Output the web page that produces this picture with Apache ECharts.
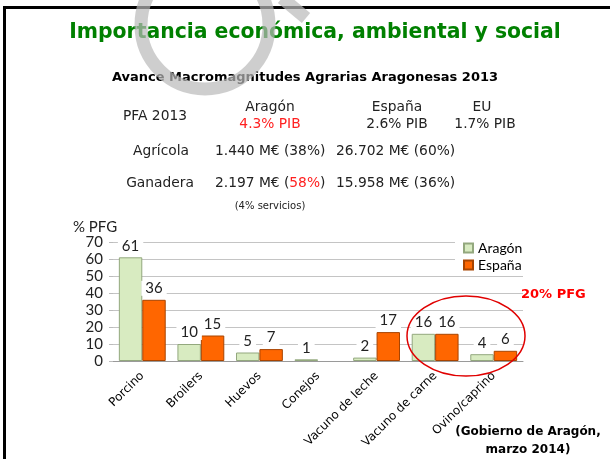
<!DOCTYPE html>
<html>
<head>
<meta charset="utf-8">
<script src="https://cdn.jsdelivr.net/npm/echarts@6/dist/echarts.min.js"></script>
<style>
  html, body { margin: 0; padding: 0; background: #fff; }
  #chart { width: 610px; height: 459px; }
</style>
</head>
<body>
<div id="chart"></div>
<script>
// datos
const categorias = ["Porcino", "Broilers", "Huevos", "Conejos", "Vacuno de leche", "Vacuno de carne", "Ovino/caprino"];
const aragon = [61, 10, 5, 1, 2, 16, 4];
const espana = [36, 15, 7, null, 17, 16, 6];
const yTicks = { min: 0, max: 70, step: 10 };

const txt = "DejaVu Sans, Verdana, sans-serif";
const num = "Lato, Carlito, sans-serif";

function t(x, y, text, opt) {
  return {
    type: "text",
    x: x,
    y: y,
    style: Object.assign({
      text: text,
      font: "13.8px " + txt,
      fill: "#222",
      textAlign: "center",
      textVerticalAlign: "middle"
    }, opt || {})
  };
}

const chart = echarts.init(document.getElementById("chart"));

chart.setOption({
  animation: false,
  backgroundColor: "#fff",
  grid: { left: 113, right: 87, top: 242, bottom: 98 },
  legend: {
    orient: "vertical",
    left: 455,
    top: 237,
    itemWidth: 9,
    itemHeight: 9,
    itemGap: 3,
    icon: "rect",
    padding: [4, 8, 4, 8],
    backgroundColor: "#fff",
    textStyle: { fontFamily: num, fontSize: 14, color: "#000" }
  },
  xAxis: {
    type: "category",
    data: categorias,
    axisLine: { lineStyle: { color: "#9a9a9a" } },
    axisTick: { length: 5, lineStyle: { color: "#9a9a9a" } },
    axisLabel: {
      rotate: 45,
      margin: 13,
      fontFamily: txt,
      fontSize: 12,
      color: "#000",
      interval: 0
    }
  },
  yAxis: {
    type: "value",
    min: yTicks.min,
    max: yTicks.max,
    interval: yTicks.step,
    axisLine: { show: false },
    axisTick: { show: true, length: 4, lineStyle: { color: "#bbb" } },
    splitLine: { lineStyle: { color: "#c4c4c4" } },
    axisLabel: { margin: 10, fontFamily: num, fontSize: 15, color: "#222" }
  },
  series: [
    {
      name: "Aragón",
      type: "bar",
      data: aragon,
      barGap: "0%",
      barCategoryGap: "20%",
      itemStyle: { color: "#d8ebc1", borderColor: "#93a87e", borderWidth: 1 },
      label: {
        show: true,
        position: "top",
        distance: 4,
        fontFamily: num,
        fontSize: 15,
        color: "#222",
        backgroundColor: "#fff",
        padding: [0, 4]
      }
    },
    {
      name: "España",
      type: "bar",
      data: espana,
      itemStyle: { color: "#ff6600", borderColor: "#a84400", borderWidth: 1 },
      label: {
        show: true,
        position: "top",
        distance: 4,
        fontFamily: num,
        fontSize: 15,
        color: "#222",
        backgroundColor: "#fff",
        padding: [0, 4]
      }
    }
  ],
  graphic: [
    // marco
    { type: "line", shape: { x1: 3, y1: 7.5, x2: 610, y2: 7.5 }, style: { stroke: "#000", lineWidth: 3 } },
    { type: "line", shape: { x1: 4.5, y1: 6, x2: 4.5, y2: 459 }, style: { stroke: "#000", lineWidth: 3 } },
    t(315, 33, "Importancia económica, ambiental y social", { font: "bold 20.4px " + txt, fill: "#008000" }),
    t(305, 78, "Avance Macromagnitudes Agrarias Aragonesas 2013", { font: "bold 13px " + txt, fill: "#000" }),
    // tabla
    t(155, 116, "PFA 2013"),
    t(270, 107, "Aragón"),
    t(270, 124, "4.3% PIB", { fill: "#ff2020" }),
    t(397, 107, "España"),
    t(397, 124, "2.6% PIB"),
    t(482, 107, "EU"),
    t(485, 124, "1.7% PIB"),
    t(161, 151, "Agrícola"),
    t(215, 151, "1.440 M€ (38%)", { textAlign: "left" }),
    t(336, 151, "26.702 M€ (60%)", { textAlign: "left" }),
    t(160, 183, "Ganadera"),
    {
      type: "text",
      x: 215,
      y: 183,
      style: {
        text: "{a|2.197 M€ (}{r|58%}{a|)}",
        textVerticalAlign: "middle",
        rich: {
          a: { font: "13.8px " + txt, fill: "#222", color: "#222" },
          r: { font: "13.8px " + txt, fill: "#ff2020", color: "#ff2020" }
        }
      }
    },
    t(336, 183, "15.958 M€ (36%)", { textAlign: "left" }),
    t(270, 206, "(4% servicios)", { font: "10px " + txt }),
    // eje y
    t(73, 227, "% PFG", { font: "15px " + num, textAlign: "left" }),
    // anotación
    t(521, 295, "20% PFG", { font: "bold 13px " + txt, fill: "#ff0000", textAlign: "left" }),
    {
      type: "ellipse",
      shape: { cx: 466, cy: 336, rx: 59, ry: 40 },
      style: { fill: null, stroke: "#e00000", lineWidth: 1.5 },
      z: 100
    },
    t(528, 432, "(Gobierno de Aragón,", { font: "bold 12px " + txt, fill: "#000" }),
    t(528, 450, "marzo 2014)", { font: "bold 12px " + txt, fill: "#000" }),
    // marca de agua
    {
      type: "circle",
      shape: { cx: 205, cy: 25, r: 64 },
      style: { fill: null, stroke: "rgba(185,185,185,0.7)", lineWidth: 13 },
      z: 200
    },
    {
      type: "line",
      shape: { x1: 282, y1: -2, x2: 306, y2: 18 },
      style: { stroke: "rgba(185,185,185,0.7)", lineWidth: 13 },
      z: 200
    }
  ]
});
</script>
</body>
</html>
